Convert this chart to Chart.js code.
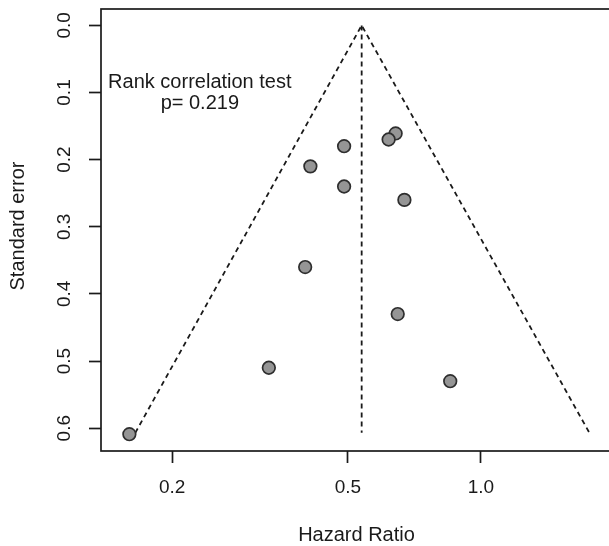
<!DOCTYPE html>
<html>
<head>
<meta charset="utf-8">
<script src="https://cdn.jsdelivr.net/npm/chart.js@4/dist/chart.umd.min.js"></script>
<style>
  html, body { margin: 0; padding: 0; background: #fff; overflow: hidden; width: 609px; height: 546px; }
  canvas { position: absolute; left: 0; top: 0; }
</style>
</head>
<body>
<canvas id="funnel" width="620" height="546"></canvas>
<script>
// study estimates
const hazardRatios = [0.641, 0.618, 0.490, 0.411, 0.490, 0.671, 0.400, 0.648, 0.852, 0.331, 0.160];
const standardErrors = [0.161, 0.170, 0.180, 0.210, 0.240, 0.260, 0.360, 0.430, 0.530, 0.510, 0.609];

// funnel outline: left foot, apex, right foot
const funnelHR = [0.165, 0.537, 1.76];
const funnelSE = [0.607, 0.0, 0.607];
const centreHR = [0.537, 0.537];
const centreSE = [0.0, 0.607];

const xTicks = [0.2, 0.5, 1.0];
const xTickLabels = ['0.2', '0.5', '1.0'];
const yTicks = [0.0, 0.1, 0.2, 0.3, 0.4, 0.5, 0.6];
const yTickLabels = ['0.0', '0.1', '0.2', '0.3', '0.4', '0.5', '0.6'];

const testLines = ['Rank correlation test', 'p= 0.219'];
const FONT = '"Liberation Sans", Arial, Helvetica, sans-serif';
const INK = '#1a1a1a';

const toXY = (xs, ys) => xs.map((x, i) => ({ x: x, y: ys[i] }));

// box, rotated y labels, axis titles and the test text
const decor = {
    id: 'decor',
    afterDraw(chart) {
        const ctx = chart.ctx;
        const a = chart.chartArea;
        const xs = chart.scales.x, ys = chart.scales.y;
        ctx.save();
        ctx.strokeStyle = INK;
        ctx.lineWidth = 1.7;
        ctx.strokeRect(a.left, a.top, a.right - a.left, a.bottom - a.top);

        ctx.fillStyle = INK;
        ctx.font = '19px ' + FONT;
        ctx.textAlign = 'center';
        ctx.textBaseline = 'middle';
        yTicks.forEach((v, i) => {
            ctx.save();
            ctx.translate(65, ys.getPixelForValue(v));
            ctx.rotate(-Math.PI / 2);
            ctx.fillText(yTickLabels[i], 0, 0);
            ctx.restore();
        });

        ctx.font = '20px ' + FONT;
        ctx.fillText('Hazard Ratio', (a.left + a.right) / 2, 535);
        ctx.save();
        ctx.translate(18, 226);
        ctx.rotate(-Math.PI / 2);
        ctx.fillText('Standard error', 0, 0);
        ctx.restore();

        const tx = xs.getPixelForValue(0.231);
        ctx.fillText(testLines[0], tx, ys.getPixelForValue(0.085));
        ctx.fillText(testLines[1], tx, ys.getPixelForValue(0.116));
        ctx.restore();
    }
};

new Chart(document.getElementById('funnel'), {
    type: 'scatter',
    data: {
        datasets: [
            {
                label: 'Studies',
                data: toXY(hazardRatios, standardErrors),
                pointRadius: 6.3,
                pointHoverRadius: 6.3,
                backgroundColor: '#959595',
                borderColor: '#2e2e2e',
                borderWidth: 1.7
            },
            {
                label: 'Pseudo CI',
                type: 'line',
                data: toXY(funnelHR, funnelSE),
                borderColor: INK,
                borderWidth: 1.8,
                borderDash: [5, 4],
                pointRadius: 0,
                fill: false,
                tension: 0
            },
            {
                label: 'Estimate',
                type: 'line',
                data: toXY(centreHR, centreSE),
                borderColor: INK,
                borderWidth: 1.8,
                borderDash: [5, 4],
                pointRadius: 0,
                fill: false
            }
        ]
    },
    options: {
        responsive: false,
        animation: false,
        layout: { padding: { top: 9, right: 5, left: 0, bottom: 0 } },
        plugins: { legend: { display: false }, tooltip: { enabled: false } },
        scales: {
            x: {
                type: 'logarithmic',
                min: 0.138,
                max: 1.98,
                afterBuildTicks: s => { s.ticks = xTicks.map(v => ({ value: v })); },
                afterFit: s => { s.height = 95; },
                ticks: {
                    callback: (v) => xTickLabels[xTicks.indexOf(v)] || '',
                    color: INK,
                    font: { family: FONT, size: 19 },
                    padding: 13,
                    maxRotation: 0,
                    autoSkip: false
                },
                grid: { drawOnChartArea: false, drawTicks: true, tickLength: 12, tickWidth: 1.7, tickColor: INK },
                border: { display: false }
            },
            y: {
                type: 'linear',
                reverse: true,
                min: -0.0244,
                max: 0.634,
                afterBuildTicks: s => { s.ticks = yTicks.map(v => ({ value: v })); },
                afterFit: s => { s.width = 101; },
                ticks: { display: false },
                grid: { drawOnChartArea: false, drawTicks: true, tickLength: 12, tickWidth: 1.7, tickColor: INK },
                border: { display: false }
            }
        }
    },
    plugins: [decor]
});
</script>
</body>
</html>
